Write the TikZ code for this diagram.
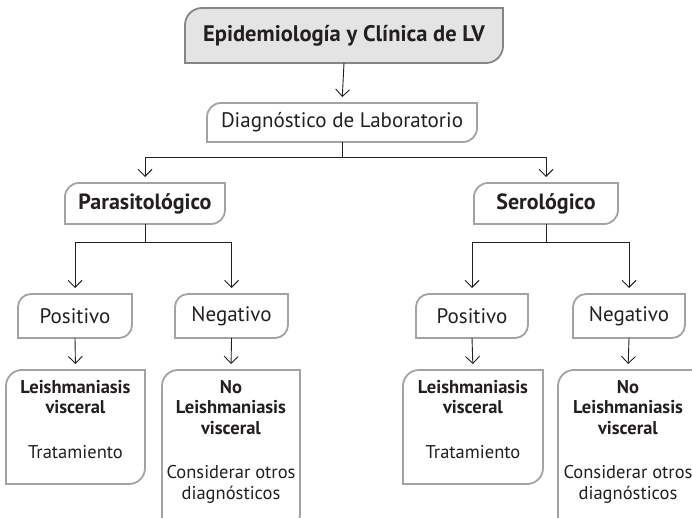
\documentclass[tikz,border=0pt]{standalone}
\usepackage{fontspec}
\setmainfont{PT Sans}
\usetikzlibrary{arrows.meta}
\definecolor{edge}{HTML}{A3A3A3}
\definecolor{topedge}{HTML}{858585}
\definecolor{topfill}{HTML}{E4E4E4}
\definecolor{ink}{HTML}{231F20}
\newcommand{\shapeit}[3][]{%
  \draw[boxline,#1] (#2.south west) -- ([yshift=-#3]#2.north west)
    arc[start angle=180,end angle=90,radius=#3] -- (#2.north east)
    -- ([yshift=#3]#2.south east)
    arc[start angle=0,end angle=-90,radius=#3] -- cycle;}
\tikzset{
  geom/.style={draw=none, inner sep=0pt, outer sep=0pt},
  boxline/.style={draw=edge, line width=1.8pt},
  bigtxt/.style={text=ink, inner sep=0pt, font=\fontsize{21}{25}\selectfont},
  boldtxt/.style={text=ink, inner sep=0pt, font=\fontsize{22}{26}\selectfont\bfseries},
  smalltxt/.style={text=ink, inner sep=0pt, align=center, anchor=north, font=\fontsize{18.5}{20.5}\selectfont},
  arr/.style={draw=ink, line width=0.9pt, -{Straight Barb[length=7pt,width=14pt]}, shorten >=6pt},
  conn/.style={draw=ink, line width=0.9pt}
}
\begin{document}
\begin{tikzpicture}[x=1pt,y=1pt]
\useasboundingbox (0,0) rectangle (692,-518);
\clip (0,0) rectangle (692,-518);
% geometry of boxes
\node[geom, minimum width=318pt, minimum height=55pt] (top) at (344,-35.5) {};
\node[geom, minimum width=270pt, minimum height=39pt] (diag) at (342,-122.5) {};
\node[geom, minimum width=160pt, minimum height=41pt] (para) at (145,-203.5) {};
\node[geom, minimum width=144pt, minimum height=41pt] (sero) at (546,-203.5) {};
\node[geom, minimum width=114pt, minimum height=44pt] (posL) at (75,-316) {};
\node[geom, minimum width=113pt, minimum height=44pt] (negL) at (231.5,-316) {};
\node[geom, minimum width=112pt, minimum height=44pt] (posR) at (472,-316) {};
\node[geom, minimum width=112pt, minimum height=44pt] (negR) at (629,-316) {};
\node[geom, minimum width=139pt, minimum height=114pt] (leiL) at (75.5,-427) {};
\node[geom, minimum width=138pt, minimum height=160pt] (noL) at (231,-450) {};
\node[geom, minimum width=140pt, minimum height=114pt] (leiR) at (473,-427) {};
\node[geom, minimum width=140pt, minimum height=160pt] (noR) at (628,-450) {};
% shapes
\shapeit[draw=topedge, fill=topfill]{top}{17pt}
\shapeit{diag}{14pt}
\shapeit{para}{14pt}
\shapeit{sero}{14pt}
\shapeit{posL}{13pt}
\shapeit{negL}{13pt}
\shapeit{posR}{13pt}
\shapeit{negR}{13pt}
\shapeit{leiL}{16pt}
\shapeit{noL}{16pt}
\shapeit{leiR}{16pt}
\shapeit{noR}{16pt}
% texts
\node[boldtxt, font=\fontsize{22.5}{26}\selectfont\bfseries] (ttop) at (top) {Epidemiología y Clínica de LV};
\node[bigtxt] (tdiag) at (diag) {Diagnóstico de Laboratorio};
\node[boldtxt] (tpara) at (para) {Parasitológico};
\node[boldtxt] (tsero) at (sero) {Serológico};
\node[bigtxt] (tposL) at (posL) {Positivo};
\node[bigtxt] (tnegL) at (negL) {Negativo};
\node[bigtxt] (tposR) at (posR) {Positivo};
\node[bigtxt] (tnegR) at (negR) {Negativo};
\node[smalltxt] (tleiL) at ([yshift=-10pt]leiL.north) {\textbf{Leishmaniasis}\\\textbf{visceral}\\[24pt]Tratamiento};
\node[smalltxt] (tnoL) at ([yshift=-10pt]noL.north) {\textbf{No}\\\textbf{Leishmaniasis}\\\textbf{visceral}\\[24pt]Considerar otros\\diagnósticos};
\node[smalltxt] (tleiR) at ([yshift=-10pt]leiR.north) {\textbf{Leishmaniasis}\\\textbf{visceral}\\[24pt]Tratamiento};
\node[smalltxt] (tnoR) at ([yshift=-10pt]noR.north) {\textbf{No}\\\textbf{Leishmaniasis}\\\textbf{visceral}\\[24pt]Considerar otros\\diagnósticos};
% connectors
\coordinate (dj) at (342,-157);
\coordinate (pj) at (145,-242);
\coordinate (sj) at (546,-242);
\draw[arr] (top.south) -- (diag.north);
\draw[conn] (diag.south) -- (dj);
\draw[arr] (dj) -| (para.north);
\draw[arr] (dj) -| (sero.north);
\draw[conn] (para.south) -- (pj);
\draw[arr] (pj) -| (posL.north);
\draw[arr] (pj) -| (negL.north);
\draw[conn] (sero.south) -- (sj);
\draw[arr] (sj) -| (posR.north);
\draw[arr] (sj) -| (negR.north);
\draw[arr] (posL.south) -- (leiL.north);
\draw[arr] (negL.south) -- (noL.north);
\draw[arr] (posR.south) -- (leiR.north);
\draw[arr] (negR.south) -- (noR.north);
\end{tikzpicture}
\end{document}
